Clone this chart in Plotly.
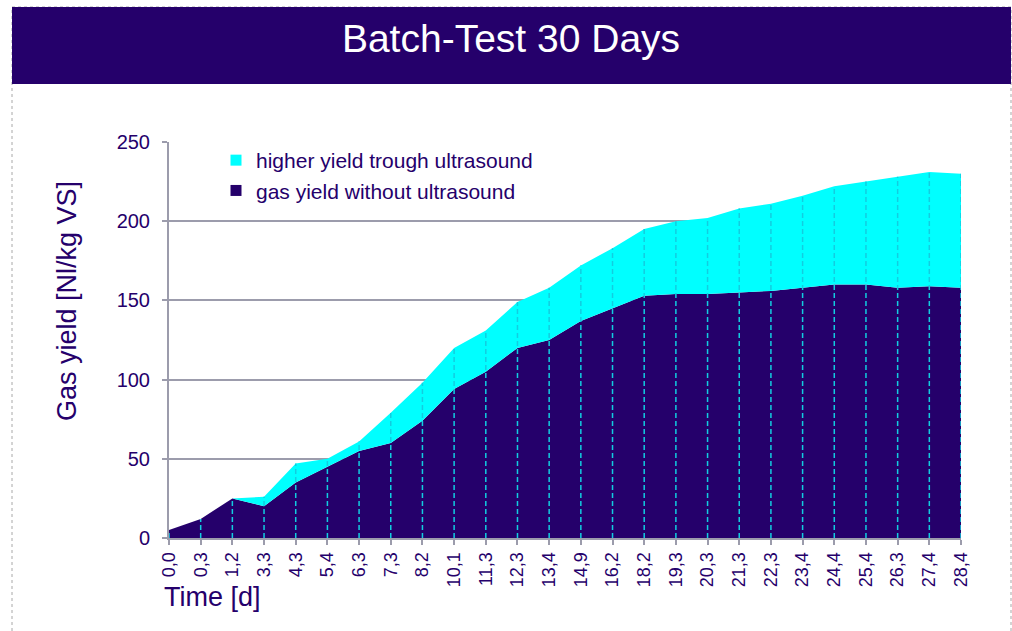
import plotly.graph_objects as go

# ---- data ----
time_labels = ["0,0", "0,3", "1,2", "3,3", "4,3", "5,4", "6,3", "7,3", "8,2",
               "10,1", "11,3", "12,3", "13,4", "14,9", "16,2", "18,2", "19,3",
               "20,3", "21,3", "22,3", "23,4", "24,4", "25,4", "26,3", "27,4", "28,4"]
yield_without_us = [5, 12, 25, 20, 35, 45, 55, 60, 74, 94, 105, 120, 125, 137,
                    145, 153, 154, 154, 155, 156, 158, 160, 160, 158, 159, 158]
yield_with_us = [5, 12, 25, 26, 47, 50, 61, 79, 98, 120, 131, 149, 158, 172,
                 183, 195, 200, 202, 208, 211, 216, 222, 225, 228, 231, 230]
y_ticks = [0, 50, 100, 150, 200, 250]

# ---- styling ----
W, H = 1012, 631
L, R, T, B = 169, 961, 142, 538   # plot area in pixels
DARK = "#25006B"
CYAN = "#00FFFF"
DROP = "#12CDE0"
GRID = "#9C9CAC"
FONT = "Liberation Sans, Arial, sans-serif"


def fx(px):
    return (px - L) / (R - L)


def fy(py):
    return (B - py) / (B - T)


fig = go.Figure()

# stacked areas
fig.add_trace(go.Scatter(x=time_labels, y=yield_without_us, mode="lines",
                         line=dict(width=0, color=DARK), fill="tozeroy",
                         fillcolor=DARK, showlegend=False, hoverinfo="skip"))
fig.add_trace(go.Scatter(x=time_labels, y=yield_with_us, mode="lines",
                         line=dict(width=0, color=CYAN), fill="tonexty",
                         fillcolor=CYAN, showlegend=False, hoverinfo="skip"))

# drop lines
dx, dy = [], []
for lab, top in zip(time_labels, yield_with_us):
    dx += [lab, lab, None]
    dy += [0, top, None]
fig.add_trace(go.Scatter(x=dx, y=dy, mode="lines",
                         line=dict(color=DROP, width=1.5, dash="5px,3px"),
                         showlegend=False, hoverinfo="skip"))

# legend entries (square markers like the original)
fig.add_trace(go.Scatter(x=[None], y=[None], mode="markers",
                         marker=dict(symbol="square", size=11, color=CYAN),
                         name="higher yield trough ultrasound"))
fig.add_trace(go.Scatter(x=[None], y=[None], mode="markers",
                         marker=dict(symbol="square", size=11, color=DARK),
                         name="gas yield without ultrasound"))

shapes = [
    # outer dotted frame
    dict(type="rect", xref="paper", yref="paper",
         x0=fx(12), x1=fx(1011), y0=fy(640), y1=fy(7),
         line=dict(color="#A8A8A8", width=1, dash="dot"), layer="below"),
    # title band
    dict(type="rect", xref="paper", yref="paper",
         x0=fx(12), x1=fx(1011), y0=fy(84), y1=fy(7),
         fillcolor=DARK, line=dict(width=0), layer="below"),
]

annotations = [
    dict(text="Gas yield [Nl/kg VS]", xref="paper", yref="paper",
         x=fx(67), y=fy(301), xanchor="center", yanchor="middle",
         textangle=-90, showarrow=False,
         font=dict(family=FONT, size=27, color=DARK)),
    dict(text="Time [d]", xref="paper", yref="paper",
         x=fx(162), y=fy(597), xanchor="left", yanchor="middle",
         showarrow=False, font=dict(family=FONT, size=27, color=DARK)),
]

fig.update_layout(
    width=W, height=H,
    margin=dict(l=L, r=W - R, t=T, b=H - B, pad=0),
    paper_bgcolor="white", plot_bgcolor="white",
    title=dict(text="Batch-Test 30 Days", x=fx(511), xanchor="center",
               y=1 - 38 / H, yanchor="middle", xref="paper",
               font=dict(family=FONT, size=39, color="white")),
    font=dict(family=FONT, color=DARK),
    showlegend=True,
    legend=dict(x=fx(216), y=fy(140), xanchor="left", yanchor="top",
                bgcolor="rgba(0,0,0,0)", borderwidth=0,
                font=dict(family=FONT, size=21, color=DARK),
                traceorder="normal"),
    shapes=shapes,
    annotations=annotations,
)

fig.update_xaxes(type="category", range=[0, len(time_labels) - 1],
                 showgrid=False, zeroline=False,
                 showline=True, linecolor=GRID, linewidth=2,
                 ticks="outside", ticklen=5, tickcolor=GRID, tickwidth=2,
                 tickangle=-90, ticklabelstandoff=0,
                 tickfont=dict(family=FONT, size=18, color=DARK))
fig.update_yaxes(range=[0, 250], tickvals=y_ticks,
                 showgrid=True, gridcolor=GRID, gridwidth=2, zeroline=False,
                 showline=True, linecolor=GRID, linewidth=2,
                 ticks="outside", ticklen=5, tickcolor=GRID, tickwidth=2,
                 ticklabelstandoff=8,
                 tickfont=dict(family=FONT, size=20, color=DARK))

fig.write_html("out.html", config={"displayModeBar": False},
               post_script="document.body.style.margin='0';document.body.style.overflow='hidden';")
